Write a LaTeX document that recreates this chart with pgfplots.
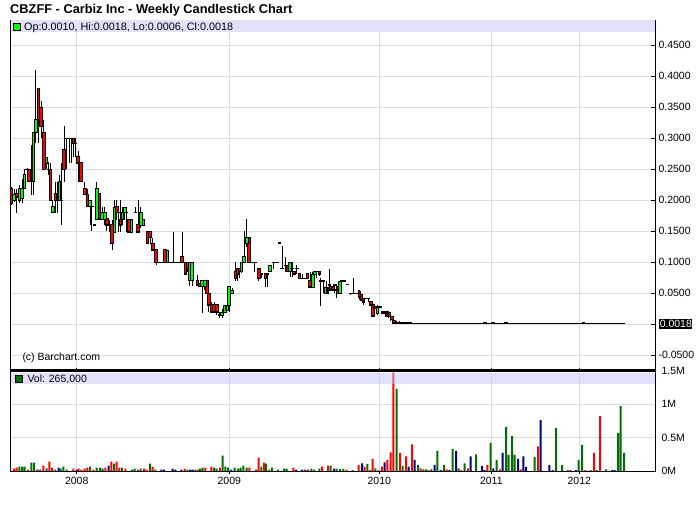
\documentclass[border=0pt]{standalone}
\usepackage{fontspec}
\setmainfont{Liberation Sans}
\usepackage{pgfplots}
\usepackage{pgfplotstable}
\pgfplotsset{compat=1.18}

\definecolor{gridgray}{RGB}{221,221,221}
\definecolor{band}{RGB}{225,225,250}
\definecolor{bandmix}{RGB}{195,195,245}
\definecolor{upgreen}{RGB}{0,255,0}
\definecolor{dnred}{RGB}{255,0,0}
\definecolor{volgreen}{RGB}{0,110,0}
\definecolor{volnavy}{RGB}{0,0,128}

% weekly candles, x = horizontal position on the chart
\pgfplotstableread{
x o h l c
11.3 .219 .222 .193 .195
14.0 .200 .219 .198 .210
16.7 .210 .219 .180 .205
19.3 .200 .225 .195 .219
22.0 .203 .235 .195 .219
24.3 .219 .250 .219 .241
27.0 .250 .252 .230 .250
29.0 .250 .250 .230 .230
31.5 .232 .289 .209 .230
33.5 .230 .309 .209 .309
35.7 .309 .410 .293 .330
38.3 .380 .380 .293 .330
41.0 .350 .360 .300 .319
43.7 .309 .330 .250 .250
46.3 .260 .270 .250 .270
48.3 .250 .261 .241 .250
50.3 .250 .260 .200 .200
52.7 .181 .200 .181 .190
55.3 .210 .230 .180 .200
57.3 .200 .230 .180 .200
59.3 .200 .241 .200 .230
61.3 .200 .260 .160 .200
64.0 .281 .320 .230 .250
66.7 .300 .300 .250 .300
69.0 .300 .300 .260 .300
71.3 .300 .300 .260 .300
73.3 .300 .300 .270 .291
75.5 .291 .300 .270 .291
78.0 .270 .280 .230 .260
80.7 .260 .260 .230 .230
84.7 .219 .230 .209 .209
87.3 .209 .219 .190 .190
90.0 .190 .200 .160 .200
91.7 .190 .200 .150 .190
94.3 .160 .160 .160 .160
96.7 .170 .230 .170 .219
99.3 .210 .210 .170 .170
102.0 .170 .190 .170 .180
104.7 .170 .190 .160 .180
106.7 .170 .180 .150 .160
109.3 .160 .169 .149 .160
112.0 .160 .169 .120 .130
114.3 .149 .200 .149 .189
116.7 .189 .200 .169 .180
118.0 .180 .189 .149 .180
120.3 .169 .200 .149 .160
122.3 .169 .189 .160 .180
124.7 .180 .189 .169 .189
126.3 .180 .189 .149 .180
128.7 .169 .169 .149 .149
131.3 .149 .169 .149 .169
135.3 .180 .189 .180 .180
138.0 .160 .200 .149 .149
140.7 .160 .189 .155 .180
143.3 .160 .169 .160 .169
147.3 .149 .149 .130 .130
150.0 .149 .149 .130 .140
152.7 .130 .140 .120 .120
156.0 .120 .120 .095 .100
158.7 .100 .100 .100 .100
162.0 .100 .100 .100 .100
164.7 .120 .120 .100 .100
167.3 .100 .120 .100 .120
170.0 .100 .100 .100 .100
173.3 .100 .149 .100 .100
176.7 .100 .100 .100 .100
179.3 .100 .100 .100 .100
182.0 .109 .149 .100 .100
185.3 .100 .100 .081 .081
187.3 .100 .100 .085 .090
189.3 .071 .100 .061 .100
192.0 .071 .100 .061 .100
197.3 .071 .080 .063 .063
200.0 .065 .071 .061 .061
202.0 .061 .071 .018 .071
204.7 .061 .071 .055 .071
206.7 .071 .071 .050 .050
208.7 .050 .050 .020 .031
211.3 .031 .036 .020 .020
214.0 .031 .036 .020 .020
216.7 .031 .031 .015 .020
219.3 .015 .020 .010 .015
222.0 .015 .025 .010 .020
224.7 .020 .031 .020 .031
226.7 .022 .031 .020 .031
229.0 .031 .061 .020 .061
232.0 .050 .058 .050 .055
235.3 .085 .100 .070 .074
237.3 .090 .090 .070 .080
239.3 .090 .090 .075 .085
241.3 .085 .100 .083 .100
244.0 .100 .150 .100 .109
246.7 .131 .170 .125 .140
248.7 .140 .140 .100 .100
251.3 .100 .100 .100 .100
254.7 .100 .100 .085 .100
258.7 .090 .090 .070 .074
261.3 .081 .081 .074 .081
265.3 .081 .081 .060 .074
267.3 .081 .081 .060 .081
270.0 .085 .095 .085 .095
273.3 .100 .100 .090 .100
276.7 .100 .100 .100 .100
279.3 .131 .131 .131 .131
282.0 .090 .126 .090 .090
285.3 .095 .109 .085 .095
287.3 .095 .095 .085 .085
290.0 .085 .100 .077 .100
292.0 .090 .100 .077 .090
294.0 .085 .085 .081 .081
296.7 .090 .095 .081 .090
299.3 .081 .081 .074 .074
302.0 .074 .081 .074 .074
305.3 .074 .074 .074 .074
307.3 .081 .081 .074 .074
310.0 .070 .085 .060 .060
312.7 .060 .085 .060 .081
314.7 .081 .085 .081 .085
316.7 .085 .085 .074 .085
319.3 .085 .085 .078 .081
320.7 .070 .074 .030 .070
323.3 .070 .070 .050 .070
326.0 .050 .070 .050 .060
327.3 .050 .060 .050 .060
329.3 .063 .090 .055 .063
330.7 .060 .060 .055 .055
332.7 .060 .060 .055 .055
334.7 .063 .063 .050 .063
336.0 .055 .055 .042 .055
338.0 .060 .060 .050 .050
340.0 .050 .070 .050 .070
342.0 .070 .070 .070 .070
344.0 .070 .070 .070 .070
347.3 .064 .064 .064 .064
350.7 .050 .050 .047 .050
353.3 .050 .074 .050 .050
355.3 .050 .050 .050 .050
358.0 .050 .055 .047 .050
359.3 .052 .055 .039 .044
361.3 .047 .047 .039 .039
363.3 .042 .042 .031 .036
365.3 .042 .042 .042 .042
368.0 .042 .042 .036 .042
370.7 .036 .036 .031 .031
372.7 .031 .031 .013 .013
374.7 .028 .031 .025 .025
377.3 .017 .031 .015 .028
380.0 .028 .028 .028 .028
382.7 .020 .020 .018 .018
384.7 .020 .020 .018 .018
386.7 .020 .020 .013 .013
388.7 .018 .018 .010 .012
390.7 .012 .014 .005 .012
392.0 .012 .012 .008 .008
394.0 .006 .006 .001 .002
396.7 .002 .006 .000 .002
399.3 .003 .005 .001 .002
402.0 .002 .004 .001 .003
404.7 .003 .004 .001 .002
407.3 .002 .003 .001 .002
410.0 .002 .003 .001 .001
412.7 .001 .002 .001 .001
415.3 .001 .002 .001 .001
418.0 .001 .002 .001 .001
420.7 .001 .002 .001 .001
423.3 .001 .001 .001 .001
426.0 .001 .002 .001 .001
428.7 .001 .001 .001 .001
431.3 .001 .001 .001 .001
434.0 .001 .002 .001 .001
436.7 .001 .002 .001 .001
439.3 .001 .001 .001 .001
442.0 .001 .001 .001 .001
444.7 .001 .001 .001 .001
447.3 .001 .001 .001 .001
450.0 .001 .001 .001 .001
452.7 .001 .002 .001 .001
455.3 .001 .001 .001 .001
458.0 .001 .001 .001 .001
460.7 .001 .001 .001 .001
463.3 .001 .001 .001 .001
466.0 .001 .002 .001 .001
468.7 .001 .001 .001 .001
471.3 .001 .001 .001 .001
474.0 .001 .001 .001 .001
476.7 .001 .002 .001 .001
479.3 .001 .002 .001 .001
482.0 .001 .002 .001 .002
484.7 .002 .002 .001 .001
487.3 .001 .002 .001 .001
490.0 .001 .002 .001 .002
492.7 .002 .002 .001 .001
495.3 .001 .001 .001 .001
498.0 .001 .002 .001 .001
500.7 .001 .002 .001 .001
503.3 .001 .002 .001 .002
506.0 .002 .002 .001 .001
508.7 .001 .002 .001 .001
511.3 .001 .002 .001 .001
514.0 .001 .001 .001 .001
516.7 .001 .001 .001 .001
519.3 .001 .001 .001 .001
522.0 .001 .001 .001 .001
524.7 .001 .001 .001 .001
527.3 .001 .001 .001 .001
530.0 .001 .001 .001 .001
532.7 .001 .001 .001 .001
535.3 .001 .001 .001 .001
538.0 .001 .001 .001 .001
540.7 .001 .001 .001 .001
543.3 .001 .001 .001 .001
546.0 .001 .001 .001 .001
548.7 .001 .001 .001 .001
551.3 .001 .001 .001 .001
554.0 .001 .001 .001 .001
556.7 .001 .001 .001 .001
559.3 .001 .001 .001 .001
562.0 .001 .001 .001 .001
564.7 .001 .001 .001 .001
567.3 .001 .001 .001 .001
570.0 .001 .001 .001 .001
572.7 .001 .001 .001 .001
575.3 .001 .001 .001 .001
578.0 .001 .002 .001 .001
580.7 .001 .002 .001 .002
583.3 .002 .002 .001 .001
586.0 .001 .002 .001 .001
588.7 .001 .002 .001 .001
591.3 .001 .001 .001 .001
594.0 .001 .002 .001 .001
596.7 .001 .002 .001 .001
599.3 .001 .001 .001 .001
602.0 .001 .001 .001 .001
604.7 .001 .001 .001 .001
607.3 .001 .002 .001 .001
610.0 .001 .002 .001 .001
612.7 .001 .001 .001 .001
615.3 .001 .002 .001 .001
618.0 .001 .002 .001 .001
620.7 .001 .002 .001 .002
623.3 .0010 .0018 .0006 .0018
}\candles

% volume in millions, split by bar colour
\pgfplotstableread{
x v
19.3 .065
22.0 .065
24.7 .065
31.3 .125
34.0 .125
46.7 .04
55.3 .02
60.7 .035
63.3 .065
66.7 .02
90.0 .065
96.7 .05
100.0 .05
102.7 .035
114.0 .11
122.0 .05
132.0 .02
134.7 .035
140.7 .035
150.0 .11
155.3 .02
187.3 .02
195.3 .02
200.0 .035
202.7 .05
214.0 .05
216.7 .035
222.7 .23
225.3 .065
228.0 .05
234.7 .05
238.0 .035
240.7 .05
243.3 .08
246.7 .05
261.3 .065
266.0 .11
269.3 .02
272.0 .05
278.0 .02
284.0 .035
286.7 .035
311.3 .035
314.0 .02
319.3 .035
330.7 .08
336.7 .035
340.0 .03
343.3 .03
352.7 .015
367.3 .105
375.3 .04
396.7 1.23
402.7 .075
418.0 .09
423.3 .025
426.0 .025
431.3 .025
437.3 .30
444.0 .09
452.7 .33
458.7 .04
464.7 .115
476.0 .25
490.7 .42
496.7 .165
506.0 .66
508.7 .24
512.0 .52
514.7 .24
534.7 .21
556.0 .64
562.0 .09
568.0 .015
578.7 .165
582.0 .39
590.7 .015
596.7 .015
606.0 .025
618.0 .57
620.7 .97
624.0 .27
}\volup

\pgfplotstableread{
x v
14.0 .035
16.7 .05
28.0 .02
40.0 .02
43.3 .08
49.3 .14
52.0 .05
73.3 .035
78.7 .035
81.3 .02
84.7 .035
87.3 .05
93.3 .02
105.3 .05
111.3 .14
116.7 .14
119.3 .05
125.3 .035
138.0 .02
144.0 .035
146.7 .02
152.7 .065
184.7 .035
198.0 .02
205.3 .05
211.3 .065
220.0 .05
249.3 .05
256.0 .02
258.7 .2
264.0 .125
293.3 .05
308.0 .02
322.0 .065
328.0 .08
346.7 .02
358.7 .09
364.7 .065
370.0 .015
372.7 .18
378.7 .015
382.0 .065
387.3 .165
390.7 .28
393.3 1.47
400.0 .27
406.0 .22
412.0 .40
420.7 .04
428.7 .015
446.7 .025
461.3 .015
468.0 .04
487.3 .09
500.0 .025
520.7 .025
538.0 .37
570.7 .015
585.3 .015
594.0 .27
600.0 .82
}\voldown

\pgfplotstableread{
x v
37.3 .02
58.7 .05
76.7 .02
108.7 .08
161.3 .02
164.0 .02
172.7 .035
175.3 .02
181.3 .02
190.0 .02
192.7 .02
231.3 .02
296.0 .02
302.0 .02
305.3 .02
334.0 .035
362.0 .115
384.7 .13
408.7 .065
414.7 .165
434.7 .09
440.7 .015
449.3 .015
456.0 .30
470.7 .22
482.0 .075
484.7 .015
493.3 .04
502.7 .27
518.0 .18
523.3 .22
526.0 .06
540.7 .76
549.3 .09
552.7 .015
576.0 .015
612.0 .015
614.7 .015
}\volflat

\pgfplotsset{
  panel/.style={
    scale only axis, width=645pt, xmin=10, xmax=655,
    axis line style={line width=1pt},
    xtick={76.7,229.3,379.3,491.3,579.3},
    grid=major, grid style={gridgray, line width=1pt},
    ytick pos=right, yticklabel pos=right,
    ticklabel style={font=\fontsize{10.5}{12}\selectfont},
    yticklabel style={anchor=west},
    tick style={black, line width=1pt},
  },
}

\begin{document}
\begin{tikzpicture}[x=1pt,y=1pt]
\path (0,0) rectangle (700,512);

% price panel: grid, ticks and wicks
\begin{axis}[panel, at={(10pt,141pt)}, anchor=south west, height=351pt,
  ymin=-0.0753, ymax=0.4908,
  ytick={-0.05,0,0.05,0.1,0.15,0.2,0.25,0.3,0.35,0.4,0.45},
  yticklabels={-0.0500,{},0.0500,0.1000,0.1500,0.2000,0.2500,0.3000,0.3500,0.4000,0.4500},
  xticklabels={}, xtick style={draw=none},
  tick align=inside, major tick length=4.5pt]
\addplot[draw=none, mark=none, forget plot,
  error bars/.cd, y dir=minus, y explicit, error mark=none,
  error bar style={draw=black, line width=1pt}]
  table[x=x, y=h, y error minus expr={\thisrow{h}-\thisrow{l}}]{\candles};
\end{axis}

% candle bodies (a doji keeps a hairline body so it still shows as a dash)
\begin{axis}[at={(10pt,141pt)}, anchor=south west, scale only axis,
  width=645pt, height=351pt, xmin=10, xmax=655, ymin=-0.0753, ymax=0.4908,
  hide axis, ybar stacked, bar width=2.4]
\addplot[draw=none, fill=none] table[x=x, y expr={min(\thisrow{o},\thisrow{c})}]{\candles};
\addplot[draw=black, line width=0.8pt, fill=upgreen] table[x=x, y expr={max(\thisrow{c}-\thisrow{o},0.0006)}]{\candles};
\addplot[draw=black, line width=0.8pt, fill=dnred] table[x=x, y expr={max(\thisrow{o}-\thisrow{c},0)}]{\candles};
\end{axis}

% volume panel
\begin{axis}[panel, at={(10pt,41pt)}, anchor=south west, height=100.3pt,
  ymin=0, ymax=1.5,
  ytick={0,0.5,1,1.5}, yticklabels={0M,0.5M,1M,1.5M},
  xticklabels={2008,2009,2010,2011,2012},
  tick align=outside, major tick length=3pt, ytick style={draw=none}]
\addplot[ybar, bar width=2, bar shift=0pt, draw=none, fill=volgreen] table[x=x, y=v]{\volup};
\addplot[ybar, bar width=2, bar shift=0pt, draw=none, fill=dnred] table[x=x, y=v]{\voldown};
\addplot[ybar, bar width=2, bar shift=0pt, draw=none, fill=volnavy] table[x=x, y=v]{\volflat};
\end{axis}

% separator between panels
\draw[line width=3pt] (10,141.3) -- (655,141.3);

% title
\node[anchor=base west, inner sep=0, font=\bfseries\fontsize{12.8}{15}\selectfont]
  at (10,498.7) {CBZFF - Carbiz Inc - Weekly Candlestick Chart};

% price header band
\fill[band] (10.5,480) rectangle (654.5,491.5);
\draw[fill=upgreen, line width=0.8pt] (13.5,481.5) rectangle (20.5,488.5);
\node[anchor=base west, inner sep=0, font=\fontsize{10.8}{12}\selectfont]
  at (24,481.2) {Op:0.0010, Hi:0.0018, Lo:0.0006, Cl:0.0018};

% copyright
\node[anchor=base west, inner sep=0, font=\fontsize{10.5}{12}\selectfont]
  at (22.3,151.2) {(c) Barchart.com};

% volume header band
\fill[bandmix, fill opacity=0.5] (10.5,128.3) rectangle (654.5,139.5);
\draw[fill=volgreen, line width=0.8pt] (15.3,130) rectangle (22.3,137);
\node[anchor=base west, inner sep=0, font=\fontsize{10.5}{12}\selectfont]
  at (27.3,129.6) {Vol: 265,000};

% last price marker
\fill[black] (659.3,182.7) rectangle (692,192.7);
\node[anchor=west, inner sep=0, text=white, font=\fontsize{10.5}{12}\selectfont]
  at (659.6,187.7) {0.0018};
\end{tikzpicture}
\end{document}
